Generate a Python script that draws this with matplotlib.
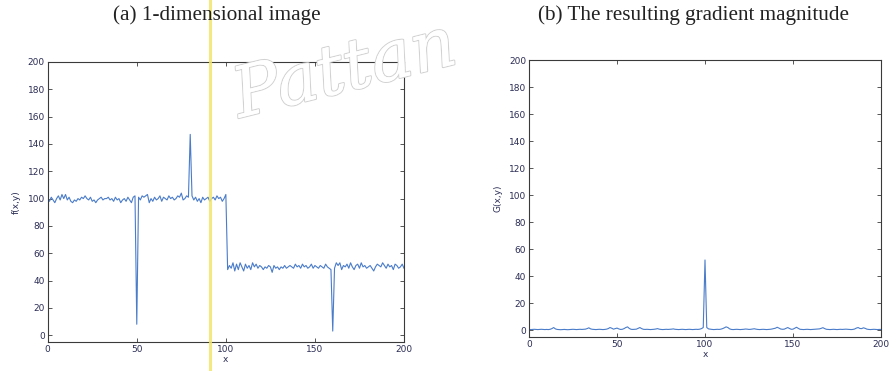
import matplotlib.pyplot as plt
import matplotlib.patheffects as pe
import numpy as np

# 1-D signal f(x,y), x = 0..200
f_values = [
    100, 98, 101, 99, 97, 100, 102, 99, 103, 100,
    103, 99, 101, 98, 97, 99, 98, 100, 99, 101,
    100, 102, 100, 99, 101, 98, 99, 97, 99, 100,
    101, 99, 100, 100, 101, 99, 100, 98, 101, 99,
    100, 97, 99, 100, 98, 101, 99, 97, 101, 102,
    8, 101, 99, 102, 101, 102, 103, 97, 100, 98,
    101, 99, 100, 102, 98, 101, 100, 99, 102, 100,
    101, 99, 100, 102, 101, 104, 99, 100, 102, 101,
    147, 102, 99, 101, 98, 100, 97, 101, 99, 100,
    101, 98, 100, 101, 99, 102, 100, 101, 98, 100,
    103, 48, 51, 49, 53, 47, 52, 48, 53, 50,
    47, 52, 49, 51, 48, 53, 50, 52, 49, 51,
    50, 48, 50, 49, 51, 50, 46, 51, 49, 50,
    48, 50, 49, 51, 49, 50, 51, 50, 49, 52,
    50, 51, 49, 52, 50, 51, 49, 50, 52, 49,
    51, 50, 49, 51, 50, 49, 52, 50, 49, 48,
    3, 49, 53, 51, 53, 48, 51, 50, 52, 49,
    53, 50, 48, 51, 52, 49, 53, 50, 51, 49,
    50, 51, 49, 47, 50, 52, 51, 50, 53, 51,
    49, 52, 50, 51, 48, 52, 51, 49, 50, 52,
    49,
]

# gradient magnitude G(x,y)
g_values = [
    0.6, 0.5, 0.6, 0.7, 0.6, 0.5, 0.6, 0.7, 0.6, 0.5,
    0.6, 0.5, 0.7, 1.2, 2.0, 1.0, 0.6, 0.5, 0.4, 0.5,
    0.6, 0.5, 0.4, 0.5, 0.6, 0.7, 0.6, 0.5, 0.6, 0.7,
    0.6, 0.7, 0.8, 1.2, 1.8, 1.0, 0.7, 0.6, 0.5, 0.6,
    0.7, 0.6, 0.5, 0.6, 0.8, 1.2, 2.0, 1.5, 0.8, 1.2,
    1.6, 1.0, 0.6, 0.7, 1.2, 2.0, 2.5, 1.3, 0.7, 0.6,
    0.7, 0.8, 1.4, 2.0, 1.2, 0.7, 0.6, 0.7, 0.6, 0.5,
    0.6, 0.7, 0.9, 1.2, 0.8, 0.6, 0.5, 0.6, 0.7, 0.6,
    0.7, 0.8, 1.0, 0.7, 0.6, 0.5, 0.6, 0.7, 0.6, 0.5,
    0.6, 0.7, 0.6, 0.5, 0.6, 0.7, 0.6, 0.8, 1.2, 2.0,
    52.0, 2.0, 1.0, 0.8, 0.6, 0.5, 0.6, 0.7, 0.6, 0.8,
    1.2, 1.8, 2.5, 2.0, 1.0, 0.6, 0.5, 0.6, 0.7, 0.6,
    0.5, 0.6, 0.7, 0.9, 0.8, 0.6, 0.7, 0.9, 1.1, 0.8,
    0.6, 0.5, 0.6, 0.7, 0.6, 0.5, 0.6, 0.7, 0.9, 1.2,
    1.5, 2.2, 1.6, 0.9, 0.7, 0.8, 1.4, 2.0, 1.3, 0.7,
    0.8, 1.5, 2.2, 1.4, 0.7, 0.6, 0.5, 0.6, 0.7, 0.6,
    0.5, 0.6, 0.7, 0.8, 0.9, 1.0, 1.4, 1.9, 1.2, 0.7,
    0.6, 0.5, 0.6, 0.7, 0.6, 0.5, 0.6, 0.7, 0.6, 0.7,
    0.8, 0.7, 0.6, 0.5, 0.6, 0.9, 1.6, 2.0, 1.3, 1.2,
    1.8, 1.4, 0.8, 0.6, 0.5, 0.6, 0.7, 0.6, 0.5, 0.6,
    0.6,
]

x_ticks = [0, 50, 100, 150, 200]
y_ticks = list(range(0, 201, 20))
titles = ["(a) 1-dimensional image", "(b) The resulting gradient magnitude"]
ylabels = ["f(x,y)", "G(x,y)"]

line_color = "#4a7cc9"
text_color = "#2b2d55"
frame_color = "#3a3a3a"

fig = plt.figure(figsize=(8.9, 3.71), dpi=100)
fig.patch.set_facecolor("white")

# faint outlined watermark (drawn first so it stays behind the axes frames)
wm = fig.text(345 / 890, 1 - 72 / 371, "Pattan", ha="center", va="center",
              family="DejaVu Serif", style="italic", fontsize=50, rotation=14,
              color="white", zorder=0.5)
wm.set_path_effects([pe.withStroke(linewidth=1.6, foreground="#d2d2d2"), pe.Normal()])

# axes placed to match the reference pixel positions
ax_a = fig.add_axes([47.7 / 890, 1 - 342 / 371, (404 - 47.7) / 890, (342 - 62) / 371])
ax_b = fig.add_axes([529 / 890, 1 - 337 / 371, (881 - 529) / 890, (337 - 60) / 371])

for ax, data, ylab in [(ax_a, f_values, ylabels[0]), (ax_b, g_values, ylabels[1])]:
    ax.patch.set_alpha(0)
    xs = np.arange(len(data))
    ax.plot(xs, data, color=line_color, linewidth=0.8)
    ax.set_xlim(0, 200)
    ax.set_ylim(-5, 200)
    ax.set_xticks(x_ticks)
    ax.set_yticks(y_ticks)
    ax.tick_params(direction="in", top=True, right=True, length=3, width=0.6,
                   labelsize=6.5, labelcolor=text_color, color=frame_color, pad=2)
    for sp in ax.spines.values():
        sp.set_color(frame_color)
        sp.set_linewidth(0.8)
    ax.set_xlabel("x", fontsize=6.5, color=text_color, labelpad=1)
    ax.set_ylabel(ylab, fontsize=6.5, color=text_color, labelpad=5)

fig.text(217 / 890, 1 - 20 / 371, titles[0], ha="center", va="baseline",
         family="Liberation Serif", fontsize=15.3, color="#222222")
fig.text(693 / 890, 1 - 20 / 371, titles[1], ha="center", va="baseline",
         family="Liberation Serif", fontsize=15.2, color="#222222")

# yellow highlight line across the figure
fig.add_artist(plt.Line2D([210 / 890, 210 / 890], [0, 1], transform=fig.transFigure,
                          color="#f3e56a", linewidth=2.2, alpha=0.85))

fig.savefig("out.png", dpi=100)
